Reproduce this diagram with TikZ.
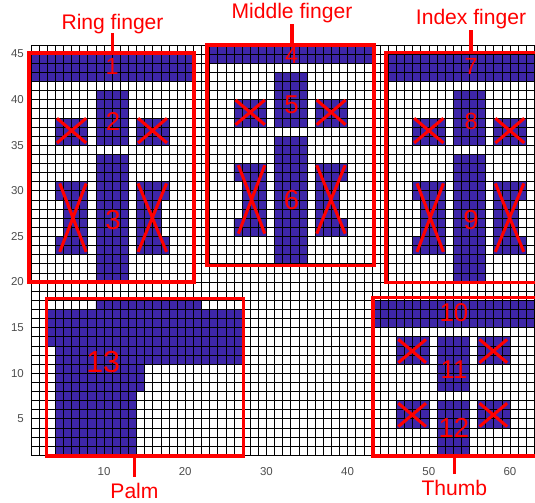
\documentclass[tikz,border=0pt]{standalone}
\usepackage{fontspec}
\setmainfont{Liberation Sans}
\usetikzlibrary{fit}
\definecolor{cellblue}{RGB}{62,38,168}
\definecolor{tickgray}{RGB}{77,77,77}

\begin{document}
\begin{tikzpicture}[x=0.2436cm, y=0.2736cm,
  cell/.style={fill=cellblue},
  gridline/.style={black, line width=0.5pt},
  cross/.style={red, line width=2.6pt},
  regionbox/.style={draw=red, line width=3pt, inner sep=0pt},
  callout/.style={red, line width=2.8pt},
  partname/.style={text=red, inner sep=0pt, font=\fontsize{18}{18}\selectfont},
  num/.style={text=red, inner sep=0pt, font=\fontsize{22}{22}\selectfont},
  ticklabel/.style={text=tickgray, inner sep=0pt, font=\fontsize{9.8}{9.8}\selectfont}]
\useasboundingbox (-2.81,-4.23) rectangle (63.08,50.92);
\clip (-2.81,-4.23) rectangle (63.08,50.92);

% cells
\begin{scope}
\clip (1,1) rectangle (64,46);
% ring, middle and index finger have the same cells
\foreach \dx/\dy in {0/0, 22/2, 44/0} {
  \begin{scope}[shift={(\dx,\dy)}]
  \fill[cell] (1,42) rectangle (21,45);
  \fill[cell] (9,35) rectangle (13,41);
  \fill[cell] (9,20) rectangle (13,34);
  \fill[cell] (4,35) rectangle (8,38);
  \fill[cell] (14,35) rectangle (18,38);
  \fill[cell] (4,23) -- (8,23) -- (8,31) -- (4,31) -- (4,29) -- (5,29) -- (5,25) -- (4,25) -- cycle;
  \fill[cell] (14,23) -- (18,23) -- (18,25) -- (17,25) -- (17,29) -- (18,29) -- (18,31) -- (14,31) -- cycle;
  \end{scope}
}
% palm
\fill[cell] (4,1) -- (14,1) -- (14,8) -- (15,8) -- (15,11) -- (27,11) -- (27,17) -- (22,17) -- (22,18)
  -- (9,18) -- (9,17) -- (3,17) -- (3,13) -- (4,13) -- cycle;
% thumb
\fill[cell] (43,15) rectangle (64,18);
\fill[cell] (51,8) rectangle (55,14);
\fill[cell] (51,1) rectangle (55,7);
\foreach \x in {46,56}
  \foreach \y in {4,11}
    \fill[cell] (\x,\y) rectangle ++(4,3);
% grid
\foreach \u in {1,...,64}
  \draw[gridline] (\u,1) -- (\u,46);
\foreach \v in {1,...,46}
  \draw[gridline] (1,\v) -- (64,\v);
\end{scope}

% crossed out cells
\foreach \dx/\dy in {0/0, 22/2, 44/0} {
  \begin{scope}[shift={(\dx,\dy)}]
  \draw[cross] (4.2,35.25) -- (7.8,37.95) (4.2,37.95) -- (7.8,35.25);
  \draw[cross] (14.2,35.25) -- (17.75,37.95) (14.2,37.95) -- (17.75,35.25);
  \draw[cross] (4.55,23.3) -- (7.8,30.8) (4.55,30.8) -- (7.8,23.3);
  \draw[cross] (14.2,23.3) -- (17.7,30.8) (14.2,30.8) -- (17.7,23.3);
  \end{scope}
}
\foreach \x in {46,56}
  \foreach \y in {4,11}
    \draw[cross] (\x+0.25,\y+0.15) -- (\x+3.65,\y+2.7) (\x+0.25,\y+2.7) -- (\x+3.65,\y+0.15);

% regions
\node[regionbox, fit={(0.75,20) (21.1,45.1)}] (ringbox) {};
\node[regionbox, fit={(22.7,21.8) (43.25,46)}] (middlebox) {};
\node[regionbox, fit={(44.7,19.95) (66,45.15)}] (indexbox) {};
\node[regionbox, fit={(2.9,0.9) (27.2,18.2)}] (palmbox) {};
\node[regionbox, fit={(43.15,0.92) (66,18.3)}] (thumbbox) {};

% names
\node[partname, anchor=base, text depth=0pt, outer sep=3pt] (ringlabel) at (11.05,47.7) {Ring finger};
\node[partname, anchor=base, text depth=0pt, outer sep=5pt] (middlelabel) at (33.15,48.9) {Middle finger};
\node[partname, anchor=base, text depth=0pt, outer sep=4.5pt] (indexlabel) at (55.2,48.2) {Index finger};
\node[partname, anchor=base, outer sep=5.5pt] (palmlabel) at (13.75,-3.72) {Palm};
\node[partname, anchor=base, outer sep=5.5pt] (thumblabel) at (53.15,-3.46) {Thumb};
\draw[callout] (ringlabel.south) -- (ringlabel.south |- ringbox.north);
\draw[callout] (middlelabel.south) -- (middlelabel.south |- middlebox.north);
\draw[callout] (indexlabel.south) -- (indexlabel.south |- indexbox.north);
\draw[callout] (palmlabel.north) -- (palmlabel.north |- palmbox.south);
\draw[callout] (thumblabel.north) -- (thumblabel.north |- thumbbox.south);

% numbers
\node[num, font=\fontsize{20}{20}\selectfont] (n1) at (11.0,43.6) {1};
\node[num] (n2) at (11.1,37.6) {2};
\node[num, font=\fontsize{23.5}{23.5}\selectfont] (n3) at (11.1,26.8) {3};
\node[num, font=\fontsize{20}{20}\selectfont] (n4) at (33.1,44.8) {4};
\node[num] (n5) at (33.1,39.4) {5};
\node[num, font=\fontsize{23.5}{23.5}\selectfont] (n6) at (33.1,29.0) {6};
\node[num, font=\fontsize{20}{20}\selectfont] (n7) at (55.2,43.6) {7};
\node[num, font=\fontsize{20}{20}\selectfont] (n8) at (55.2,37.6) {8};
\node[num, font=\fontsize{23.5}{23.5}\selectfont] (n9) at (55.2,26.8) {9};
\node[num] (n10) at (53.1,16.6) {10};
\node[num] (n11) at (53.1,10.35) {11};
\node[num, font=\fontsize{23.5}{23.5}\selectfont] (n12) at (53.1,3.96) {12};
\node[num, font=\fontsize{26}{26}\selectfont] (n13) at (9.9,11.26) {13};

% axis ticks
\foreach \u in {10,20,...,60}
  \node[ticklabel] (xt\u) at (\u,-0.76) {\u};
\foreach \v in {5,10,...,45}
  \node[ticklabel, anchor=east] (yt\v) at (0.15,\v) {\v};
\end{tikzpicture}
\end{document}
